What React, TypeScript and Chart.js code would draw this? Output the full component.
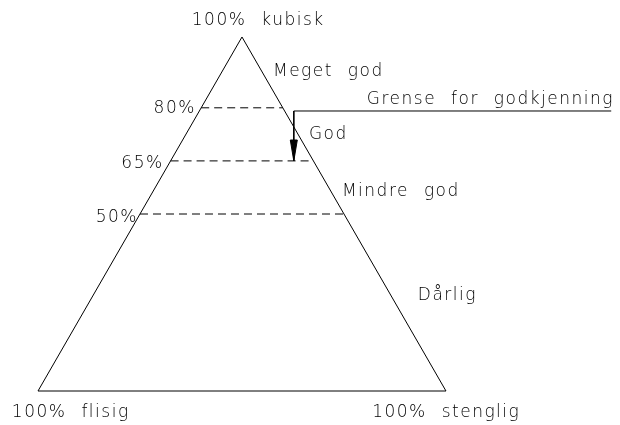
import React, { useEffect, useRef } from "react";
import { Chart, registerables } from "chart.js";

Chart.register(...registerables);

// Triangle corners in (position along base %, kubisk %)
const triangleU = [0, 100, 50, 0];
const triangleK = [0, 0, 100, 0];

// Dashed kubisk-levels
const levels = [80, 65, 50];
const levelLabels = ["80%", "65%", "50%"];

// Approval limit (Grense for godkjenning)
const limitLevel = 65;
const limitLineK = 79.1;
const limitStartU = 62.7;
const limitEndU = 140.5;

const cornerLabels = ["100% kubisk", "100% flisig", "100% stenglig"];
const classLabels = ["Meget god", "God", "Mindre god", "Dårlig"];
const limitLabel = "Grense for godkjenning";

// label anchors in data units (u, k)
const labelPlacement: { text: string; u: number; k: number; align: CanvasTextAlign }[] = [
  { text: cornerLabels[0], u: 37.7, k: 103.4, align: "left" },
  { text: cornerLabels[1], u: -6.4, k: -7.3, align: "left" },
  { text: cornerLabels[2], u: 81.9, k: -7.3, align: "left" },
  { text: classLabels[0], u: 57.6, k: 89, align: "left" },
  { text: classLabels[1], u: 66.4, k: 71.2, align: "left" },
  { text: classLabels[2], u: 74.5, k: 55.1, align: "left" },
  { text: classLabels[3], u: 93.1, k: 25.7, align: "left" },
  { text: limitLabel, u: 80.6, k: 81, align: "left" },
  { text: levelLabels[0], u: 38.7, k: 78.5, align: "right" },
  { text: levelLabels[1], u: 30.8, k: 63, align: "right" },
  { text: levelLabels[2], u: 24.5, k: 47.7, align: "right" },
];

const FONT = "200 17px 'DejaVu Sans', 'Liberation Sans', sans-serif";

const textPlugin = {
  id: "textLabels",
  afterDatasetsDraw(chart: any) {
    const { ctx, scales } = chart;
    ctx.save();
    ctx.font = FONT;
    (ctx as any).letterSpacing = "1.5px";
    (ctx as any).wordSpacing = "8px";
    ctx.fillStyle = "#000";
    ctx.textBaseline = "alphabetic";
    for (const l of labelPlacement) {
      ctx.textAlign = l.align;
      ctx.fillText(l.text, scales.x.getPixelForValue(l.u), scales.y.getPixelForValue(l.k));
    }
    ctx.restore();
  },
};

export default function App() {
  const ref = useRef<HTMLCanvasElement>(null);
  useEffect(() => {
    if (!ref.current) return;
    const base = {
      borderColor: "#000",
      borderWidth: 1,
      pointRadius: 0,
      fill: false,
      tension: 0,
    };
    const datasets: any[] = [
      {
        ...base,
        data: triangleU.map((u, i) => ({ x: u, y: triangleK[i] })),
      },
      ...levels.map((k) => ({
        ...base,
        borderDash: [8, 5],
        data: [
          { x: k / 2, y: k },
          { x: 100 - k / 2, y: k },
        ],
      })),
      {
        ...base,
        data: [
          { x: limitEndU, y: limitLineK },
          { x: limitStartU, y: limitLineK },
          { x: limitStartU, y: limitLevel },
        ],
      },
      {
        ...base,
        backgroundColor: "#000",
        fill: "shape",
        data: [
          { x: limitStartU - 0.86, y: limitLevel + 5.9 },
          { x: limitStartU + 0.86, y: limitLevel + 5.9 },
          { x: limitStartU, y: limitLevel },
          { x: limitStartU - 0.86, y: limitLevel + 5.9 },
        ],
      },
    ];
    const chart = new Chart(ref.current, {
      type: "line",
      data: { datasets },
      options: {
        animation: false,
        responsive: false,
        parsing: false as any,
        layout: { padding: 0 },
        plugins: { legend: { display: false }, tooltip: { enabled: false } },
        scales: {
          x: { type: "linear", min: -9.31, max: 142.65, display: false },
          y: { type: "linear", min: -9.6, max: 110.45, display: false },
        },
      },
      plugins: [textPlugin],
    });
    return () => chart.destroy();
  }, []);
  return (
    <div style={{ position: "fixed", left: 0, top: 0, width: 620, height: 425, background: "#fff" }}>
      <canvas ref={ref} width={620} height={425} />
    </div>
  );
}
